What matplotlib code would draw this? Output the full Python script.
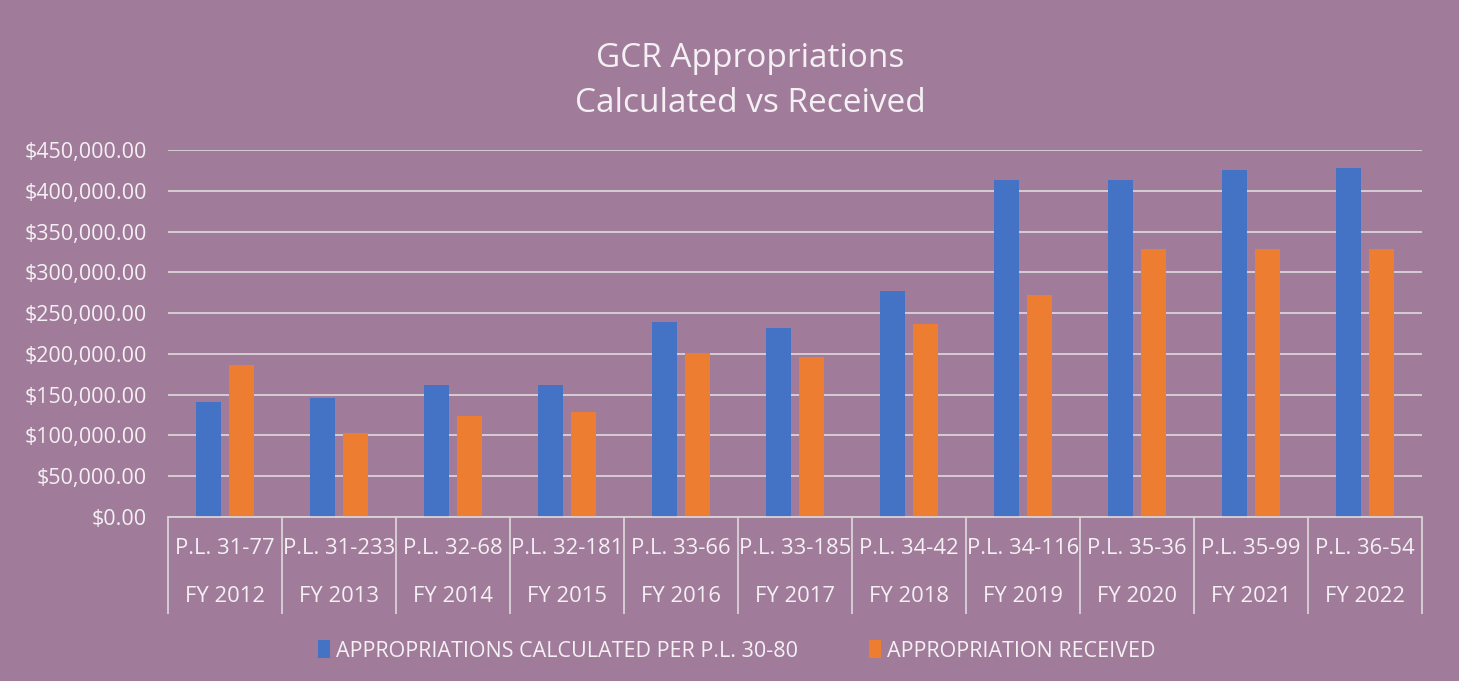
import numpy as np
import matplotlib
matplotlib.use('Agg')
import matplotlib.pyplot as plt
from matplotlib.ticker import FuncFormatter, MultipleLocator

# Data
fiscal_years = ['FY 2012', 'FY 2013', 'FY 2014', 'FY 2015', 'FY 2016', 'FY 2017',
                'FY 2018', 'FY 2019', 'FY 2020', 'FY 2021', 'FY 2022']
public_laws = ['P.L. 31-77', 'P.L. 31-233', 'P.L. 32-68', 'P.L. 32-181', 'P.L. 33-66',
               'P.L. 33-185', 'P.L. 34-42', 'P.L. 34-116', 'P.L. 35-36', 'P.L. 35-99',
               'P.L. 36-54']
calculated = [141000, 146000, 162000, 162000, 239000, 232000, 277000, 413000, 413000, 425000, 428000]
received = [186000, 103000, 124000, 129000, 201000, 196000, 237000, 272000, 329000, 329000, 329000]

bg = '#A07C9A'
txt = '#F4F0F4'
grid = '#D9D4D8'
plt.rcParams['font.family'] = ['Open Sans', 'DejaVu Sans']

fig = plt.figure(figsize=(14.59, 6.81), dpi=100, facecolor=bg)
ax = fig.add_axes([0.1151, 0.2408, 0.8595, 0.5389], facecolor=bg)

x = np.arange(len(fiscal_years))
w = 0.225
ax.bar(x - 0.145, calculated, w, color='#4472C4', label='APPROPRIATIONS CALCULATED PER P.L. 30-80', zorder=3)
ax.bar(x + 0.145, received, w, color='#ED7D31', label='APPROPRIATION RECEIVED', zorder=3)

ax.set_ylim(0, 450000)
ax.set_xlim(-0.5, len(x) - 0.5)
ax.yaxis.set_major_locator(MultipleLocator(50000))
ax.yaxis.set_major_formatter(FuncFormatter(lambda v, p: '${:,.2f}'.format(v)))
ax.grid(axis='y', color=grid, linewidth=1.3, zorder=0)
for s in ['left', 'right', 'top']:
    ax.spines[s].set_visible(False)
ax.spines['bottom'].set_color(grid)
ax.spines['bottom'].set_linewidth(1.3)
ax.spines['bottom'].set_zorder(4)
ax.tick_params(axis='y', length=0, pad=15, labelsize=15.5, labelcolor=txt)

# two-level category axis
ax.set_xticks(x, public_laws)
ax.set_xticks(np.arange(len(x) + 1) - 0.5, minor=True)
ax.tick_params(axis='x', which='major', length=0, pad=15, labelsize=15.8, labelcolor=txt)
ax.tick_params(axis='x', which='minor', length=70, width=1.3, color=grid, direction='out')
sec = ax.secondary_xaxis('bottom')
sec.set_xticks(x, fiscal_years)
sec.tick_params(length=0, pad=50, labelsize=15.8, labelcolor=txt)
sec.spines['bottom'].set_visible(False)

fig.text(0.514, 0.914, 'GCR Appropriations', ha='center', va='center', fontsize=24, color=txt)
fig.text(0.514, 0.848, 'Calculated vs Received', ha='center', va='center', fontsize=24, color=txt)

leg = fig.legend(loc='center', bbox_to_anchor=(0.505, 0.044), ncol=2, frameon=False,
                 fontsize=15.5, handlelength=0.55, handleheight=0.9, handletextpad=0.3,
                 columnspacing=3.3)
for t in leg.get_texts():
    t.set_color(txt)

fig.savefig('out.png', dpi=100, facecolor=bg)
